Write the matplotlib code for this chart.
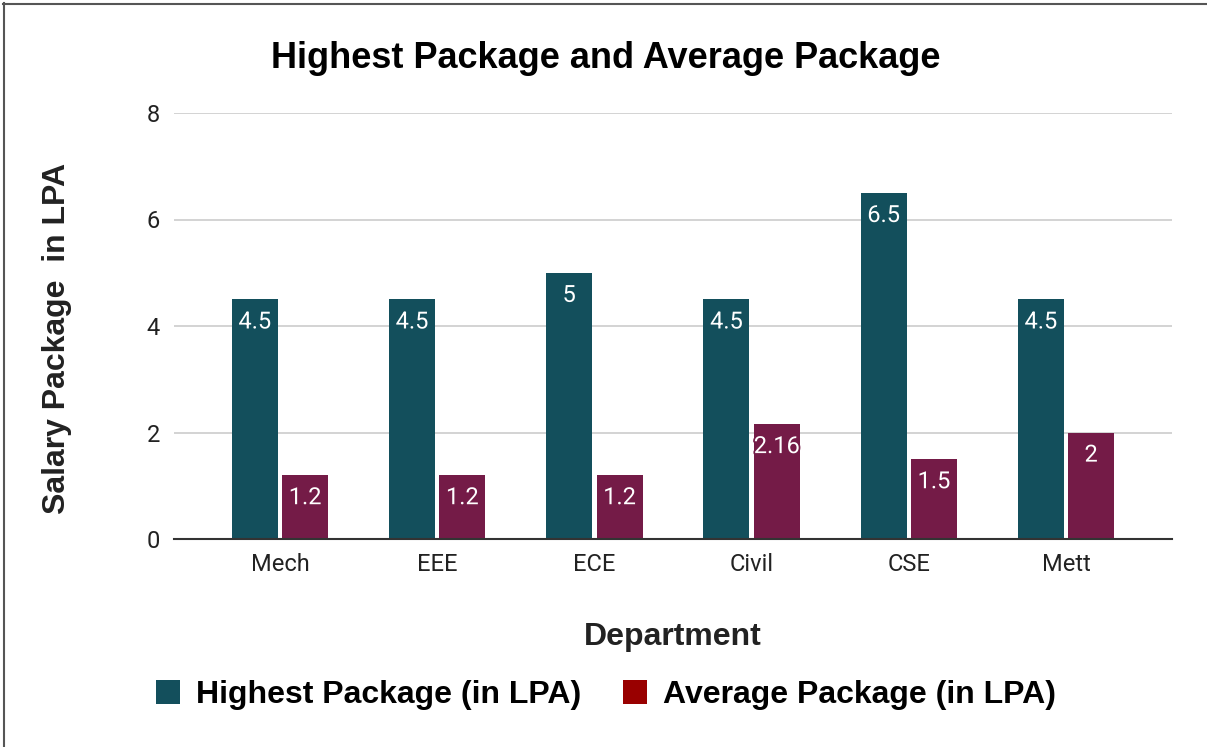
import matplotlib
matplotlib.use("Agg")
import matplotlib.pyplot as plt
import matplotlib.patheffects as pe
from matplotlib.lines import Line2D
from matplotlib.patches import Patch
import numpy as np

# chart data
departments = ["Mech", "EEE", "ECE", "Civil", "CSE", "Mett"]
highest_pkg = [4.5, 4.5, 5, 4.5, 6.5, 4.5]
average_pkg = [1.2, 1.2, 1.2, 2.16, 1.5, 2]
highest_labels = ["4.5", "4.5", "5", "4.5", "6.5", "4.5"]
average_labels = ["1.2", "1.2", "1.2", "2.16", "1.5", "2"]
y_ticks = [0, 2, 4, 6, 8]

C_HIGH = "#134f5c"
C_AVG = "#741b47"
C_AVG_LEGEND = "#990000"

W, H = 1207, 747
fig = plt.figure(figsize=(W / 100, H / 100), dpi=100)
fig.patch.set_facecolor("white")

ax = fig.add_axes([174 / W, 1 - 539 / H, (1172 - 174) / W, (539 - 113) / H])

x = np.arange(len(departments))
bw = 0.293
off = 0.16
ax.bar(x - off, highest_pkg, bw, color=C_HIGH, zorder=3)
ax.bar(x + off, average_pkg, bw, color=C_AVG, zorder=3)

# white value labels inside bar tops
for xi, v, lab in zip(x, highest_pkg, highest_labels):
    ax.annotate(lab, (xi - off, v), xytext=(0, -8), textcoords="offset points",
                ha="center", va="top", color="white", fontsize=17, family="Roboto", zorder=4,
                path_effects=[pe.withStroke(linewidth=2.5, foreground=C_HIGH)])
for xi, v, lab in zip(x, average_pkg, average_labels):
    ax.annotate(lab, (xi + off, v), xytext=(0, -8), textcoords="offset points",
                ha="center", va="top", color="white", fontsize=17, family="Roboto", zorder=4,
                path_effects=[pe.withStroke(linewidth=2.5, foreground=C_AVG)])

ax.set_xlim(-0.674, 5.674)
ax.set_ylim(0, 8)
ax.set_yticks(y_ticks)
ax.set_xticks(x)
ax.set_xticklabels(departments)
for lbl in ax.get_xticklabels() + ax.get_yticklabels():
    lbl.set_family("Roboto")
    lbl.set_fontsize(17)
    lbl.set_color("#222222")
ax.tick_params(axis="y", length=0, pad=10)
ax.tick_params(axis="x", length=0, pad=10)
ax.grid(axis="y", color="#cccccc", linewidth=1.2, zorder=0)
ax.set_axisbelow(True)
for s in ["top", "right", "left"]:
    ax.spines[s].set_visible(False)
ax.spines["bottom"].set_color("#333333")
ax.spines["bottom"].set_linewidth(1.5)
ax.spines["bottom"].set_zorder(5)

# titles and axis labels
fig.text(606 / W, 1 - 58 / H, "Highest Package and Average Package", ha="center", va="center",
         fontsize=26, fontweight="bold", family="Liberation Sans", color="#000000")
fig.text(673 / W, 1 - 637 / H, "Department", ha="center", va="center",
         fontsize=23, fontweight="bold", family="Liberation Sans", color="#222222")
fig.text(57 / W, 1 - 338 / H, "Salary Package  in LPA", ha="center", va="center", rotation=90,
         fontsize=23, fontweight="bold", family="Liberation Sans", color="#222222")

handles = [Patch(facecolor=C_HIGH), Patch(facecolor=C_AVG_LEGEND)]
fig.legend(handles, ["Highest Package (in LPA)", "Average Package (in LPA)"],
           loc="center", bbox_to_anchor=(606 / W, 1 - 695 / H), ncol=2, frameon=False,
           handlelength=0.75, handleheight=0.8, handletextpad=0.5, columnspacing=1.3,
           prop={"family": "Liberation Sans", "weight": "bold", "size": 23})

# frame lines on top and left
fig.add_artist(Line2D([3.5 / W, 3.5 / W], [0, 1 - 3 / H], color="#555555", lw=1.5))
fig.add_artist(Line2D([3 / W, 1], [1 - 3.5 / H, 1 - 3.5 / H], color="#555555", lw=1.5))

fig.savefig("out.png", dpi=100, facecolor="white")
